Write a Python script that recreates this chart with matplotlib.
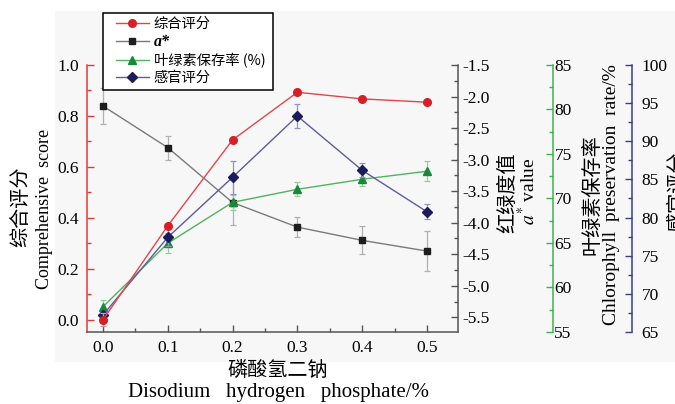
import matplotlib
matplotlib.use('Agg')
import matplotlib.pyplot as plt
from matplotlib.patches import Rectangle
from matplotlib.lines import Line2D
from matplotlib.ticker import MultipleLocator, FormatStrFormatter

plt.rcParams['font.family'] = ['Liberation Serif', 'Noto Sans CJK SC', 'DejaVu Sans']
plt.rcParams['mathtext.fontset'] = 'stix'
plt.rcParams['axes.unicode_minus'] = False

# ---------------- data ----------------
concentration = [0.0, 0.1, 0.2, 0.3, 0.4, 0.5]
comprehensive_score = [0.0, 0.369, 0.706, 0.893, 0.867, 0.854]
comprehensive_err = [0.025, 0, 0, 0, 0, 0]
a_star = [-2.15, -2.81, -3.68, -4.07, -4.28, -4.45]
a_star_err = [0.29, 0.19, 0.36, 0.16, 0.22, 0.32]
chlorophyll = [57.84, 64.97, 69.57, 71.03, 72.16, 73.06]
chlorophyll_err = [0.74, 1.14, 0.86, 0.77, 0.80, 1.14]
sensory = [67.23, 77.41, 85.28, 93.31, 86.20, 80.77]
sensory_err = [0.40, 1.17, 2.17, 1.57, 0.90, 1.00]

legend_labels = ['综合评分', 'a*', '叶绿素保存率 (%)', '感官评分']
x_ticks = [0.0, 0.1, 0.2, 0.3, 0.4, 0.5]

# ---------------- style ----------------
RED_L, RED_M = '#e0474c', '#d61f26'
BLK_L, BLK_M, BLK_E = '#7a7a7a', '#1e1e1e', '#b0b0b0'
GRN_L, GRN_M, GRN_E = '#4fb45c', '#16893a', '#92d09b'
BLU_L, BLU_M, BLU_E = '#5c5ca0', '#1c1c5c', '#9393c0'
RED_S, GRY_S, GRN_S, BLU_S = '#e23a3a', '#555555', '#3cb54a', '#3c3c8c'

W, H = 675, 404
PT = 0.72  # points per pixel at dpi 100
fig = plt.figure(figsize=(W / 100, H / 100), dpi=100)
fig.patch.set_facecolor('white')
fig.patches.append(Rectangle((55 / W, (H - 362) / H), 1, (362 - 11) / H,
                             transform=fig.transFigure, facecolor='#f7f7f7',
                             edgecolor='none', zorder=-5))

ax = fig.add_axes([87 / W, (H - 332) / H, (458 - 87) / W, (332 - 65) / H])
ax.set_facecolor('none')
ax2 = ax.twinx()
ax3 = ax.twinx()
ax4 = ax.twinx()

tick_fs = 12.5

# main axis (comprehensive score)
for s in ['top', 'right']:
    ax.spines[s].set_visible(False)
ax.spines['left'].set_color(RED_S)
ax.spines['bottom'].set_color(GRY_S)
ax.spines['left'].set_linewidth(1.1)
ax.spines['bottom'].set_linewidth(1.1)
ax.set_xlim(-0.0247, 0.548)
ax.set_ylim(-0.048, 1.0)
ax.xaxis.set_major_locator(MultipleLocator(0.1))
ax.xaxis.set_minor_locator(MultipleLocator(0.05))
ax.yaxis.set_major_locator(MultipleLocator(0.2))
ax.yaxis.set_minor_locator(MultipleLocator(0.1))
ax.xaxis.set_major_formatter(FormatStrFormatter('%.1f'))
ax.yaxis.set_major_formatter(FormatStrFormatter('%.1f'))
ax.set_xticks(x_ticks)
ax.tick_params(axis='y', which='both', direction='in', color=RED_S, labelsize=tick_fs, pad=6)
ax.tick_params(axis='x', which='both', direction='in', color=GRY_S, labelsize=tick_fs, pad=6)
ax.tick_params(which='major', length=5, width=1)
ax.tick_params(which='minor', length=3, width=1)

for a in (ax2, ax3, ax4):
    for s in ['top', 'left', 'bottom']:
        a.spines[s].set_visible(False)
    a.spines['right'].set_linewidth(1.1)

# a* axis
ax2.spines['right'].set_color(GRY_S)
ax2.set_ylim(-5.733, -1.5)
ax2.yaxis.set_major_locator(MultipleLocator(0.5))
ax2.yaxis.set_minor_locator(MultipleLocator(0.25))
ax2.yaxis.set_major_formatter(FormatStrFormatter('%.1f'))
ax2.tick_params(axis='y', which='both', direction='in', color=GRY_S, labelsize=tick_fs, pad=3)
ax2.tick_params(which='major', length=5, width=1)
ax2.tick_params(which='minor', length=3, width=1)

# chlorophyll axis
ax3.spines['right'].set_position(('outward', 95 * PT))
ax3.spines['right'].set_color(GRN_S)
ax3.set_ylim(55, 85)
ax3.yaxis.set_major_locator(MultipleLocator(5))
ax3.yaxis.set_minor_locator(MultipleLocator(2.5))
ax3.tick_params(axis='y', which='both', direction='in', color=GRN_S, labelsize=tick_fs, pad=1)
ax3.tick_params(which='major', length=5, width=1)
ax3.tick_params(which='minor', length=3, width=1)

# sensory axis
ax4.spines['right'].set_position(('outward', 174 * PT))
ax4.spines['right'].set_color(BLU_S)
ax4.set_ylim(65, 100)
ax4.yaxis.set_major_locator(MultipleLocator(5))
ax4.yaxis.set_minor_locator(MultipleLocator(2.5))
ax4.tick_params(axis='y', which='both', direction='in', color=BLU_S, labelsize=tick_fs, pad=7)
ax4.tick_params(which='major', length=5, width=1)
ax4.tick_params(which='minor', length=3, width=1)

# ---------------- series ----------------
ax2.errorbar(concentration, a_star, yerr=a_star_err, color=BLK_L, lw=1.0,
             marker='s', ms=5, mfc=BLK_M, mec=BLK_M, ecolor=BLK_E, elinewidth=0.9,
             capsize=2.2, capthick=0.9, zorder=3)
ax3.errorbar(concentration, chlorophyll, yerr=chlorophyll_err, color=GRN_L, lw=1.0,
             marker='^', ms=6, mfc=GRN_M, mec=GRN_M, ecolor=GRN_E, elinewidth=0.9,
             capsize=2.2, capthick=0.9, zorder=3)
ax4.errorbar(concentration, sensory, yerr=sensory_err, color=BLU_L, lw=1.0,
             marker='D', ms=5, mfc=BLU_M, mec=BLU_M, ecolor=BLU_E, elinewidth=0.9,
             capsize=2.2, capthick=0.9, zorder=3)
ax2.set_zorder(1); ax3.set_zorder(2); ax4.set_zorder(3)
# comprehensive score drawn on a top-most overlay sharing the main y scale
ax5 = ax.twinx()
ax5.set_ylim(ax.get_ylim())
ax5.axis('off')
ax5.set_zorder(4)
ax5.errorbar(concentration, comprehensive_score, yerr=comprehensive_err, color=RED_L, lw=1.0,
             marker='o', ms=5.5, mfc=RED_M, mec=RED_M, ecolor='#c0a0a0', elinewidth=0.9,
             capsize=2.2, capthick=0.9, zorder=3)

# ---------------- legend ----------------
fig.patches.append(Rectangle((103 / W, 1 - 90 / H), (273 - 103) / W, (90 - 13) / H,
                             transform=fig.transFigure, facecolor='white',
                             edgecolor='black', lw=1.1, zorder=8))
handles = [
    Line2D([], [], color=RED_L, lw=1.0, marker='o', ms=5.5, mfc=RED_M, mec=RED_M),
    Line2D([], [], color=BLK_L, lw=1.0, marker='s', ms=5, mfc=BLK_M, mec=BLK_M),
    Line2D([], [], color=GRN_L, lw=1.0, marker='^', ms=6, mfc=GRN_M, mec=GRN_M),
    Line2D([], [], color=BLU_L, lw=1.0, marker='D', ms=5, mfc=BLU_M, mec=BLU_M),
]
leg = fig.legend(handles, legend_labels, loc='upper left',
                 bbox_to_anchor=(113 / W, 1 - 14 / H), bbox_transform=fig.transFigure,
                 frameon=False,
                 prop={'family': ['Noto Sans CJK SC', 'DejaVu Sans'], 'size': 10.3},
                 handlelength=2.3, handletextpad=0.35, labelspacing=0.2,
                 borderpad=0.2, borderaxespad=0)
leg.set_zorder(10)
t = leg.get_texts()[1]
t.set_family('Liberation Serif'); t.set_style('italic'); t.set_weight('bold'); t.set_size(11.5)

# ---------------- axis titles ----------------
def ftxt(x, y, s, **kw):
    fig.text(x / W, 1 - y / H, s, ha='center', va='center', **kw)

cjk = ['Noto Sans CJK SC', 'DejaVu Sans']
ftxt(21, 207, '综合评分', rotation=90, family=cjk, size=14.5)
ftxt(45, 209, 'Comprehensive  score', rotation=90, size=13)
ftxt(278, 370, '磷酸氢二钠', family=cjk, size=14.5)
ftxt(278, 393, 'Disodium   hydrogen   phosphate/%', size=15)
ftxt(508, 193, '红绿度值', rotation=90, family=cjk, size=14.5)
ftxt(528, 191, r'$a^{*}$ value', rotation=90, size=14)
ftxt(592, 195, '叶绿素保存率', rotation=90, family=cjk, size=14.5)
ftxt(611, 195, 'Chlorophyll  preservation  rate/%', rotation=90, size=14)
ftxt(678, 192, '感官评分', rotation=90, family=cjk, size=14.5)

fig.savefig('out.png', dpi=100)
